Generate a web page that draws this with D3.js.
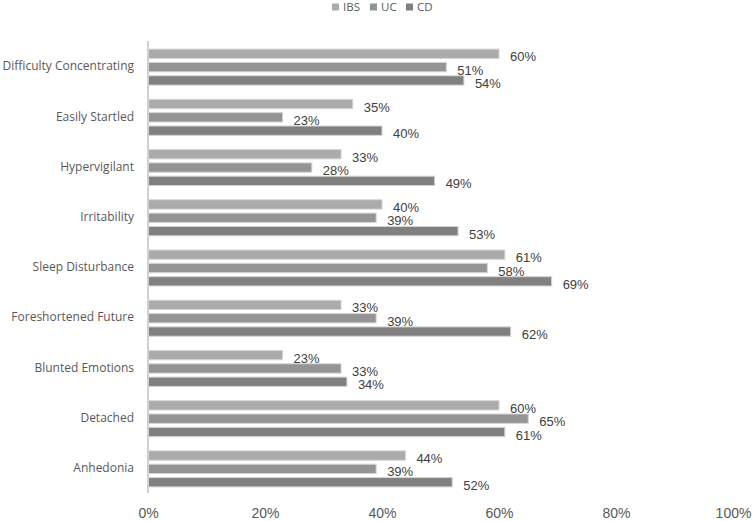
<!DOCTYPE html>
<html>
<head>
<meta charset="utf-8">
<script src="https://cdn.jsdelivr.net/npm/d3@7"></script>
<style>
  body { margin: 0; background: #fff; }
  svg { display: block; }
</style>
</head>
<body>
<svg width="752" height="521"></svg>
<script>
const categories = ['Difficulty Concentrating', 'Easily Startled', 'Hypervigilant', 'Irritability',
  'Sleep Disturbance', 'Foreshortened Future', 'Blunted Emotions', 'Detached', 'Anhedonia'];
const seriesNames = ['IBS', 'UC', 'CD'];
const ibs = [60, 35, 33, 40, 61, 33, 23, 60, 44];
const uc = [51, 23, 28, 39, 58, 39, 33, 65, 39];
const cd = [54, 40, 49, 53, 69, 62, 34, 61, 52];
const xTicks = [0, 20, 40, 60, 80, 100];

const colors = { IBS: '#ababab', UC: '#949494', CD: '#808080' };
const seriesData = { IBS: ibs, UC: uc, CD: cd };

const svg = d3.select('svg');

const x = d3.scaleLinear().domain([0, 100]).range([148, 733]);
const y = d3.scaleBand().domain(categories).range([41, 493]);
const inner = d3.scaleBand().domain(seriesNames).range([y.bandwidth() / 2 - 17, y.bandwidth() / 2 + 19]).paddingInner(0.3);

// bars
const groups = svg.selectAll('g.cat')
    .data(categories)
    .enter()
    .append('g')
    .attr('class', 'cat')
    .attr('transform', d => `translate(0,${y(d)})`);

groups.selectAll('rect')
    .data((d, i) => seriesNames.map(s => ({ s, v: seriesData[s][i] })))
    .enter()
    .append('rect')
    .attr('x', x(0))
    .attr('y', d => inner(d.s))
    .attr('width', d => x(d.v) - x(0))
    .attr('height', inner.bandwidth())
    .style('fill', d => colors[d.s])
    .style('stroke', '#d4d4d4')
    .style('stroke-width', 1);

groups.selectAll('text')
    .data((d, i) => seriesNames.map(s => ({ s, v: seriesData[s][i] })))
    .enter()
    .append('text')
    .attr('x', d => x(d.v) + 11)
    .attr('y', d => inner(d.s) + inner.bandwidth() / 2 + 3)
    .attr('dy', '0.35em')
    .style('font-family', '"Liberation Sans", Arial, sans-serif')
    .style('font-size', '13px')
    .style('fill', '#404040')
    .text(d => d.v + '%');

// y axis line and category labels
svg.append('line')
    .attr('x1', x(0)).attr('x2', x(0))
    .attr('y1', y.range()[0]).attr('y2', y.range()[1])
    .style('stroke', '#d0d0d0')
    .style('stroke-width', 2);

svg.append('g')
    .selectAll('text')
    .data(categories)
    .enter()
    .append('text')
    .attr('x', 134)
    .attr('y', d => y(d) + y.bandwidth() / 2)
    .attr('dy', '0.35em')
    .attr('text-anchor', 'end')
    .style('font-family', '"Open Sans", sans-serif')
    .style('font-size', '12px')
    .style('fill', '#595959')
    .text(d => d);

// x axis tick labels
const xAxis = svg.append('g')
    .attr('transform', 'translate(0,513)')
    .call(d3.axisBottom(x).tickValues(xTicks).tickFormat(d => d + '%').tickSize(0).tickPadding(0));
xAxis.select('.domain').remove();
xAxis.selectAll('text')
    .attr('y', 0)
    .attr('dy', '0.35em')
    .style('font-family', '"Liberation Sans", Arial, sans-serif')
    .style('font-size', '14px')
    .style('fill', '#595959');

// legend
const legend = svg.append('g').attr('transform', 'translate(332,7)');
const legendX = [0, 38, 74];
seriesNames.forEach((s, i) => {
  const item = legend.append('g').attr('transform', `translate(${legendX[i]},0)`);
  item.append('rect')
      .attr('x', 0).attr('y', -3.5)
      .attr('width', 7).attr('height', 7)
      .style('fill', colors[s]);
  item.append('text')
      .attr('x', 11)
      .attr('y', 0)
      .attr('dy', '0.35em')
      .style('font-family', '"Open Sans", sans-serif')
      .style('font-size', '11.5px')
      .style('fill', '#595959')
      .text(s);
});
</script>
</body>
</html>
